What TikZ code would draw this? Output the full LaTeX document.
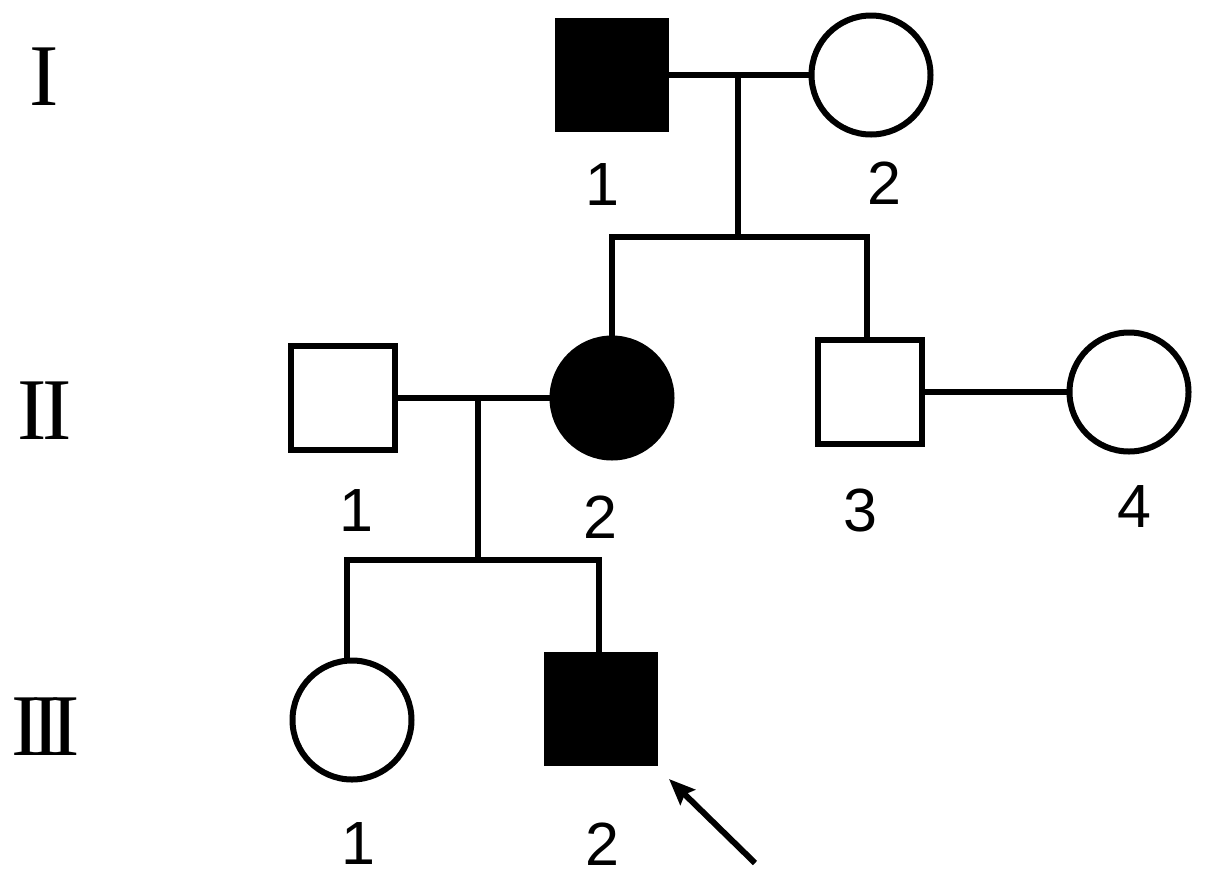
\documentclass[tikz,border=0pt]{standalone}
\usepackage{fontspec}
\setmainfont{Liberation Sans}
\newfontfamily\romanfont{Liberation Serif}
\usetikzlibrary{arrows.meta}
\begin{document}
\begin{tikzpicture}[x=1pt,y=-1pt,
  conn/.style={line width=6pt,line join=miter},
  male/.style={rectangle,draw,line width=6pt,minimum size=104pt,inner sep=0pt,outer sep=0pt},
  malea/.style={male,fill=black,minimum size=108pt},
  female/.style={circle,draw,line width=6pt,minimum size=119pt,inner sep=0pt,outer sep=0pt},
  femalea/.style={female,fill=black},
  num/.style={inner sep=0pt,font=\fontsize{61}{61}\selectfont},
  gen/.style={inner sep=0pt,font=\romanfont\fontsize{88}{88}\selectfont}]
\useasboundingbox (0,0) rectangle (1205,879);
% generation labels
\node[gen] (gI) at (44,77) {I};
\node[gen] (gII) at (45,411) {I\kern-0.05em I};
\node[gen] (gIII) at (46,727) {I\kern-0.11em I\kern-0.11em I};
% generation I
\node[malea] (I1) at (612,75) {};
\node[female] (I2) at (871,75) {};
% generation II
\node[male] (II1) at (343,398) {};
\node[femalea] (II2) at (612,398) {};
\node[male] (II3) at (870,392) {};
\node[female] (II4) at (1129,392) {};
% generation III
\node[female] (III1) at (352,720) {};
\node[malea] (III2) at (601,709) {};
% numbers
\node[num] (nI1) at (602,185) {1};
\node[num] (nI2) at (884,183) {2};
\node[num] (nII1) at (356,511) {1};
\node[num] (nII2) at (600,517) {2};
\node[num] (nII3) at (860,510) {3};
\node[num] (nII4) at (1134,507) {4};
\node[num] (nIII1) at (358,844) {1};
\node[num] (nIII2) at (602,844) {2};
% coordinates
\coordinate (m1) at (738,75);
\coordinate (sL1) at (612,237);
\coordinate (sR1) at (867,237);
\coordinate (m2) at (478,398);
\coordinate (sL2) at (347,560);
\coordinate (sR2) at (599,560);
\coordinate (arrT) at (755,863);
\coordinate (arrH) at (669,779);
% connectors
\draw[conn] (I1) -- (I2);
\draw[conn] (m1) -- (m1 |- sL1);
\draw[conn] (II2.north) -- (sL1) -- (sR1) -- (sR1 |- II3.north);
\draw[conn] (II1) -- (II2);
\draw[conn] (II3) -- (II4);
\draw[conn] (m2) -- (m2 |- sL2);
\draw[conn] (sL2 |- III1.north) -- (sL2) -- (sR2) -- (sR2 |- III2.north);
\draw[line width=6pt,-{Stealth[length=26pt,width=21pt,inset=4pt]}] (arrT) -- (arrH);
\end{tikzpicture}
\end{document}
